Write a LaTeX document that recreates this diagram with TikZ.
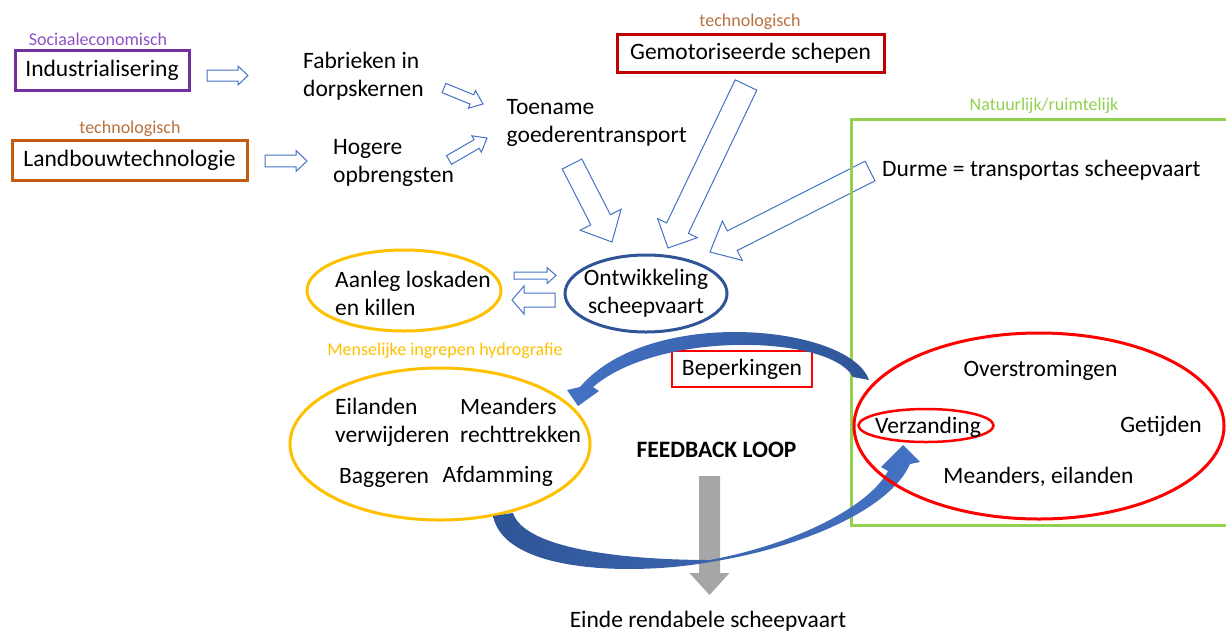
\documentclass[tikz,border=0pt]{standalone}
\usepackage{fontspec}
\setmainfont{Carlito}
\usetikzlibrary{positioning, calc, shapes}

\definecolor{paars}{HTML}{7030A0}
\definecolor{paarskop}{HTML}{8E50C6}
\definecolor{oranje}{HTML}{C55A11}
\definecolor{bruinkop}{HTML}{B8703F}
\definecolor{donkerrood}{HTML}{C00000}
\definecolor{groen}{HTML}{92D050}
\definecolor{geel}{HTML}{FFC000}
\definecolor{blauw}{HTML}{2F5597}
\definecolor{lichtblauw}{HTML}{4472C4}
\definecolor{grijs}{HTML}{A6A6A6}

% blokpijl: [style]{tail}{tip}{half shaft}{half head}{head length}
\newcommand{\blokpijl}[6][holpijl]{%
  \coordinate (bp-h) at ($(#3)!#6!(#2)$);
  \path[#1] ($(#2)!#4!90:(#3)$) -- ($(bp-h)!#4!90:(#3)$) -- ($(bp-h)!#5!90:(#3)$) -- (#3)
    -- ($(bp-h)!#5!-90:(#3)$) -- ($(bp-h)!#4!-90:(#3)$) -- ($(#2)!#4!-90:(#3)$) -- cycle;
}

\begin{document}
\begin{tikzpicture}[x=1pt, y=-1pt,
    tekst/.style={inner sep=0pt, font=\fontsize{23.5}{28}\selectfont},
    kop/.style={inner sep=0pt, font=\fontsize{18}{22}\selectfont},
    kader/.style={tekst, line width=3pt, minimum height=40pt},
    ovaal/.style={ellipse, line width=3pt, inner sep=0pt},
    holpijl/.style={draw=lichtblauw, fill=white, line width=1pt, line join=miter},
    grijspijl/.style={fill=grijs}]
  \useasboundingbox (0,0) rectangle (1226,633);
  % oorzaken
  \node[kader, draw=paars, minimum width=174pt] (indu) at (102,70) {Industrialisering};
  \node[kop, text=paarskop, anchor=base] (soci) at (98,45) {Sociaaleconomisch};
  \node[kader, draw=oranje, minimum width=235pt] (land) at (129.5,160) {Landbouwtechnologie};
  \node[kop, text=bruinkop, anchor=base] (tec1) at (130,133) {technologisch};
  \node[kader, draw=donkerrood, minimum width=267pt, minimum height=38pt] (gemo) at (750.5,53.5) {Gemotoriseerde schepen};
  \node[kop, text=bruinkop, anchor=base] (tec2) at (750,26.7) {technologisch};
  \node[tekst, align=left, anchor=west] (fabr) at (303,76.2) {Fabrieken in\\dorpskernen};
  \node[tekst, align=left, anchor=west] (hoge) at (333,162.9) {Hogere\\opbrengsten};
  \node[tekst, align=left, anchor=west] (toen) at (506.5,122.5) {Toename\\goederentransport};
  \node[tekst, anchor=base west] (durm) at (882,176) {Durme = transportas scheepvaart};
  %---------------------------
  \node[ovaal, draw=geel, minimum width=194pt, minimum height=81pt] (aanl) at (404,290.5) {};
  \node[tekst, align=left, anchor=west] (aanltxt) at (335,293.9) {Aanleg loskaden\\en killen};
  \node[ovaal, draw=blauw, minimum width=162pt, minimum height=77pt] (ontw) at (646,293.5) {};
  \node[tekst, align=center] (ontwtxt) at (646,293) {Ontwikkeling\\scheepvaart};
  \node[kop, text=geel, anchor=base] (mens) at (445,355) {Menselijke ingrepen hydrografie};
  \node[ovaal, draw=geel, minimum width=300pt, minimum height=152pt] (ingr) at (440,444) {};
  \node[tekst, align=left, anchor=west] (eila) at (335,422) {Eilanden\\verwijderen};
  \node[tekst, align=left, anchor=west] (mean) at (460,420.6) {Meanders\\rechttrekken};
  \node[tekst, anchor=base west] (bagg) at (339,483) {Baggeren};
  \node[tekst, anchor=base west] (afda) at (442.5,482.7) {Afdamming};
  \node[tekst, draw=red, line width=2.5pt, minimum width=140pt, minimum height=36pt] (bepe) at (742,369) {Beperkingen};
  \node[tekst, font=\fontsize{23.5}{28}\selectfont\bfseries, anchor=base] (feed) at (716.5,457) {FEEDBACK LOOP};
  \node[tekst, anchor=base] (eind) at (708,627) {Einde rendabele scheepvaart};
  %---------------------------
  \coordinate (indu-u) at (207,75.5);   \coordinate (fabr-i) at (248,75.5);
  \coordinate (land-u) at (265,161);    \coordinate (hoge-i) at (307,161);
  \coordinate (fabr-u) at (444,88);     \coordinate (toen-i1) at (483,104);
  \coordinate (hoge-u) at (449,160);    \coordinate (toen-i2) at (487,138);
  \coordinate (toen-u) at (572,164);    \coordinate (ontw-i1) at (612,242);
  \coordinate (gemo-u) at (746,85);     \coordinate (ontw-i2) at (668,248);
  \coordinate (durm-u) at (870,171);    \coordinate (ontw-i3) at (710,252);
  \coordinate (aanl-u) at (514,275.5);  \coordinate (ontw-i4) at (556,275.5);
  \coordinate (ontw-u) at (555,300);    \coordinate (aanl-i) at (512,300);
  \blokpijl{indu-u}{fabr-i}{5.5pt}{9.5pt}{10pt}
  \blokpijl{land-u}{hoge-i}{5.8pt}{10.5pt}{11pt}
  \blokpijl{fabr-u}{toen-i1}{5pt}{9.5pt}{12pt}
  \blokpijl{hoge-u}{toen-i2}{5pt}{9.5pt}{12pt}
  \blokpijl{toen-u}{ontw-i1}{11pt}{23pt}{25pt}
  \blokpijl{gemo-u}{ontw-i2}{12pt}{22pt}{22pt}
  \blokpijl{durm-u}{ontw-i3}{11pt}{22pt}{25pt}
  \blokpijl{aanl-u}{ontw-i4}{3.5pt}{8pt}{9pt}
  \blokpijl{ontw-u}{aanl-i}{7pt}{14pt}{12pt}
  %---------------------------
  \draw[groen, line width=3pt] (851,119) rectangle (1232,525);
  \node[kop, text=groen, anchor=base] (natu) at (1044,110) {Natuurlijk/ruimtelijk};
  \coordinate (feed-u) at (709.5,476);  \coordinate (eind-i) at (709.5,595);
  \blokpijl[grijspijl]{feed-u}{eind-i}{10.5pt}{20pt}{22pt}
  % feedback loop
  \shade[left color=lichtblauw, right color=blauw]
    (869,380) .. controls (850,325) and (650,305) .. (580,387)
    -- (567,390) -- (578,406) -- (599,391) -- (593,387)
    .. controls (660,330) and (830,335) .. (853,377) -- cycle;
  \shade[left color=blauw, right color=lichtblauw]
    (493,516) .. controls (505,575) and (640,575) .. (710,562)
    .. controls (800,548) and (890,510) .. (910,464)
    -- (920,462) -- (903,445) -- (881,467) -- (888,471)
    .. controls (870,505) and (800,543) .. (710,560)
    .. controls (630,560) and (525,550) .. (513,513) -- cycle;
  %---------------------------
  \node[ovaal, draw=red, minimum width=370pt, minimum height=186pt] (natr) at (1039,426) {};
  \node[ovaal, draw=red, line width=2.5pt, minimum width=135pt, minimum height=33pt] (verz) at (926,425.5) {};
  \node[tekst, anchor=base] (verztxt) at (928,433) {Verzanding};
  \node[tekst, anchor=base] (over) at (1040.5,376.7) {Overstromingen};
  \node[tekst, anchor=base] (geti) at (1161,432.7) {Getijden};
  \node[tekst, anchor=base] (mea2) at (1038.5,483) {Meanders, eilanden};
\end{tikzpicture}
\end{document}
